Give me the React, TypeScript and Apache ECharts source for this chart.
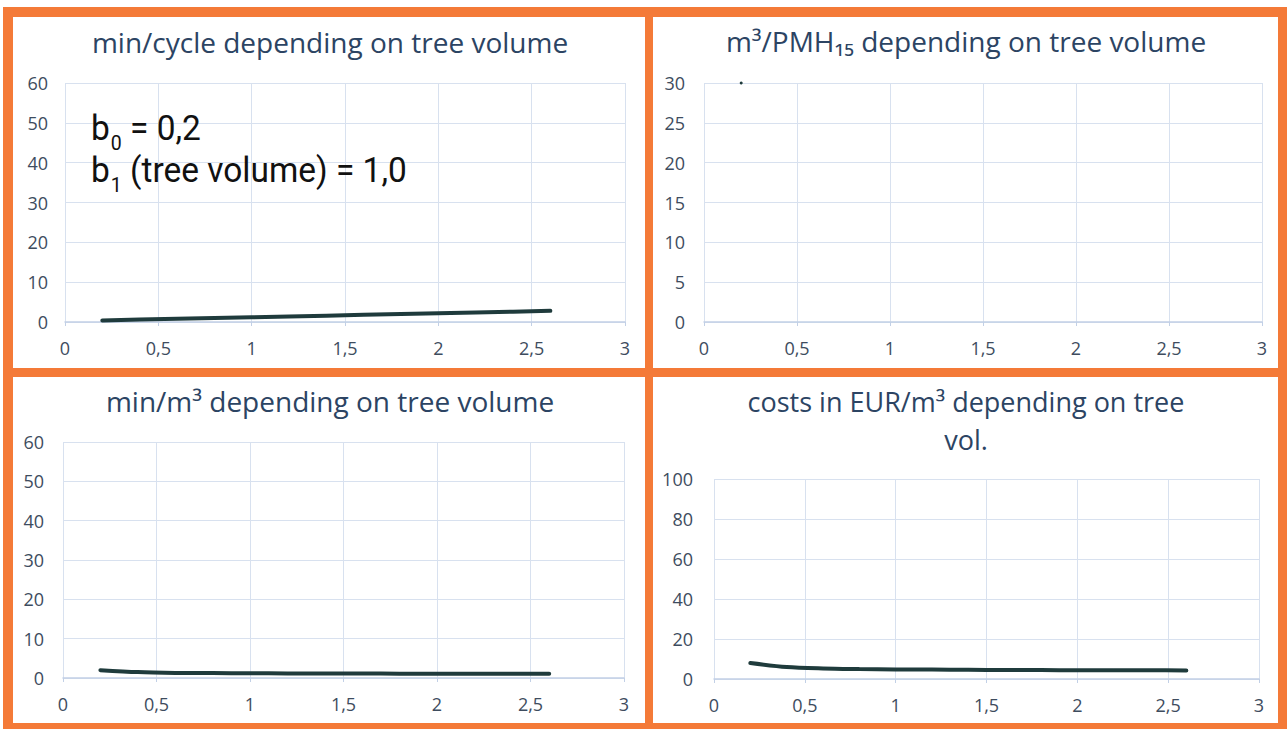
import React, { useEffect, useRef } from "react";
import * as echarts from "echarts";

// ---- data ----
const treeVolume = [0.2, 0.4, 0.6, 0.8, 1.0, 1.2, 1.4, 1.6, 1.8, 2.0, 2.2, 2.4, 2.6];
const minPerCycle = [0.4, 0.6, 0.8, 1.0, 1.2, 1.4, 1.6, 1.8, 2.0, 2.2, 2.4, 2.6, 2.8];
const m3PerPmhVolume = [0.2];
const m3PerPmh = [30];
const minPerM3 = [2.0, 1.5, 1.3, 1.25, 1.2, 1.17, 1.14, 1.13, 1.11, 1.1, 1.09, 1.08, 1.08];
const costsPerM3 = [8.0, 6.0, 5.3, 5.0, 4.8, 4.7, 4.6, 4.5, 4.45, 4.4, 4.37, 4.35, 4.3];

const titles = [
  "min/cycle depending on tree volume",
  "m³/PMH₁₅ depending on tree volume",
  "min/m³ depending on tree volume",
  "costs in EUR/m³ depending on tree",
  "vol.",
];
// annotation: [base, subscript, rest]
const annotation = [
  ["b", "0", " = 0,2"],
  ["b", "1", " (tree volume) = 1,0"],
];

const ORANGE = "#f47a38";
const LINE = "#1f3b3c";
const GRIDC = "#d8e1ef";
const AXISC = "#c2d0e6";
const LABELC = "#3e4c5e";
const TITLEC = "#2c4463";
const FONT = "'Open Sans', 'Noto Sans', sans-serif";
const ANN_FONT = "36px Roboto";
const SUB_FONT = "21px Roboto";

const pair = (xs: number[], ys: number[]) => xs.map((x, i) => [x, ys[i]]);

function measure(text: string, font: string) {
  const c = document.createElement("canvas").getContext("2d");
  if (!c) return text.length * 16;
  c.font = font;
  return c.measureText(text).width;
}

export default function App() {
  const ref = useRef<HTMLDivElement>(null);
  useEffect(() => {
    if (!ref.current) return;
    const chart = echarts.init(ref.current, undefined, { renderer: "svg" });

    const grids = [
      { left: 65, top: 83, width: 560, height: 239 },
      { left: 704, top: 83, width: 558, height: 239 },
      { left: 63, top: 442, width: 561, height: 236 },
      { left: 714, top: 479, width: 545, height: 200 },
    ];
    const yRanges = [
      { max: 60, interval: 10 },
      { max: 30, interval: 5 },
      { max: 60, interval: 10 },
      { max: 100, interval: 20 },
    ];
    const titlePos = [
      { x: 330, y: 42, size: 28 },
      { x: 966, y: 41, size: 28 },
      { x: 330, y: 401, size: 28 },
      { x: 966, y: 401, size: 27 },
      { x: 966, y: 439, size: 27 },
    ];
    const yMargins = [17, 19, 19, 21];

    const xAxis = grids.map((_, i) => ({
      type: "value",
      gridIndex: i,
      min: 0,
      max: 3,
      interval: 0.5,
      axisLine: { show: true, lineStyle: { color: AXISC, width: 1.5 } },
      axisTick: { show: true, length: 4, lineStyle: { color: AXISC } },
      splitLine: { show: true, lineStyle: { color: GRIDC, width: 1 } },
      axisLabel: {
        color: LABELC,
        fontFamily: FONT,
        fontSize: 18,
        margin: 17,
        formatter: (v: number) => String(v).replace(".", ","),
      },
    }));
    const yAxis = grids.map((_, i) => ({
      type: "value",
      gridIndex: i,
      min: 0,
      max: yRanges[i].max,
      interval: yRanges[i].interval,
      axisLine: { show: false },
      axisTick: { show: false },
      splitLine: { show: true, lineStyle: { color: GRIDC, width: 1 } },
      axisLabel: { color: LABELC, fontFamily: FONT, fontSize: 18, margin: yMargins[i] },
    }));

    const lineStyle = { color: LINE, width: 4, cap: "round" as const };
    const series: any[] = [
      {
        type: "line",
        xAxisIndex: 0,
        yAxisIndex: 0,
        data: pair(treeVolume, minPerCycle),
        showSymbol: false,
        lineStyle,
      },
      {
        type: "line",
        xAxisIndex: 1,
        yAxisIndex: 1,
        data: pair(m3PerPmhVolume, m3PerPmh),
        showSymbol: true,
        symbol: "circle",
        symbolSize: 3,
        itemStyle: { color: LINE },
        lineStyle,
      },
      {
        type: "line",
        xAxisIndex: 2,
        yAxisIndex: 2,
        data: pair(treeVolume, minPerM3),
        showSymbol: false,
        smooth: 0.3,
        lineStyle,
      },
      {
        type: "line",
        xAxisIndex: 3,
        yAxisIndex: 3,
        data: pair(treeVolume, costsPerM3),
        showSymbol: false,
        smooth: 0.3,
        lineStyle,
      },
    ];

    // annotation pieces
    const annChildren: any[] = [];
    const lineCenters = [128, 170];
    annotation.forEach((parts, li) => {
      const cy = lineCenters[li];
      const wb = measure(parts[0], ANN_FONT);
      const ws = measure(parts[1], SUB_FONT);
      annChildren.push({
        type: "text",
        x: 0,
        y: cy,
        z: 100,
        style: { text: parts[0], font: ANN_FONT, fill: "#111111", verticalAlign: "middle" },
      });
      annChildren.push({
        type: "text",
        x: wb + 1,
        y: cy + 15,
        z: 100,
        style: { text: parts[1], font: SUB_FONT, fill: "#111111", verticalAlign: "middle" },
      });
      annChildren.push({
        type: "text",
        x: wb + ws + 1,
        y: cy,
        z: 100,
        style: { text: parts[2], font: ANN_FONT, fill: "#111111", verticalAlign: "middle" },
      });
    });

    chart.setOption({
      animation: false,
      backgroundColor: "transparent",
      title: titles.map((t, i) => ({
        text: t,
        left: titlePos[i].x,
        top: titlePos[i].y - 14,
        padding: 0,
        textAlign: "center",
        textStyle: {
          color: TITLEC,
          fontFamily: FONT,
          fontSize: titlePos[i].size,
          fontWeight: "normal",
          lineHeight: 28,
        },
      })),
      grid: grids.map((g) => ({ ...g, containLabel: false })),
      xAxis,
      yAxis,
      series,
      graphic: [
        {
          type: "group",
          x: 91,
          y: 0,
          scaleX: 0.93,
          z: 100,
          zlevel: 0,
          children: annChildren,
        },
      ],
    });

    return () => chart.dispose();
  }, []);

  const panel = (left: number, top: number, w: number, h: number) => (
    <div
      style={{ position: "absolute", left, top, width: w, height: h, background: "#ffffff" }}
    />
  );

  return (
    <div style={{ position: "fixed", left: 0, top: 0, width: 1287, height: 729, background: "#ffffff" }}>
      <div style={{ position: "absolute", left: 3, top: 7, width: 1284, height: 722, background: ORANGE }} />
      {panel(13, 17, 632, 351)}
      {panel(653, 17, 625, 351)}
      {panel(13, 377, 632, 346)}
      {panel(653, 377, 625, 346)}
      <div ref={ref} style={{ position: "absolute", left: 0, top: 0, width: 1287, height: 729 }} />
    </div>
  );
}
